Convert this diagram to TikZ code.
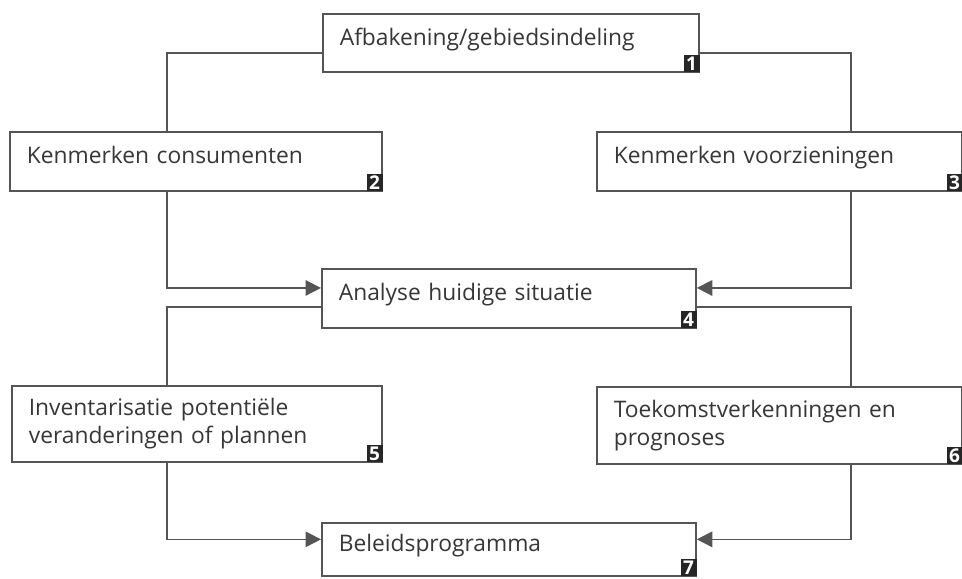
\documentclass[tikz,border=0pt]{standalone}
\usepackage{fontspec}
\setmainfont{Open Sans}
\usetikzlibrary{positioning,arrows.meta}
\definecolor{LineGray}{RGB}{85,85,85}
\definecolor{TextGray}{RGB}{55,55,55}
\tikzset{
  sbox/.style={draw=LineGray,fill=white,line width=1.2pt,anchor=north west,
               inner xsep=0.425cm,align=left,text=TextGray,text depth=9pt,
               font=\fontsize{16.2}{20}\selectfont},
  sbox2/.style={sbox,text depth={}},
  nr/.style={fill=black!85,text=white,anchor=south east,inner sep=0pt,
             minimum width=0.4cm,minimum height=0.43cm,
             font=\fontsize{13.5}{13.5}\selectfont\bfseries},
  lijn/.style={LineGray,line width=1.2pt},
  arr/.style={-{Triangle[length=11pt,width=11pt]},LineGray,line width=1.2pt},
}
\begin{document}
\begin{tikzpicture}[x=0.025cm,y=-0.025cm]
        \useasboundingbox (0,0) rectangle (962,579);
        \node[sbox,text width=8.55cm,minimum height=1.45cm] (a) at (322,13) {Afbakening/gebiedsindeling};
        \node[sbox,text width=8.45cm,minimum height=1.475cm] (b) at (9,131) {Kenmerken consumenten};
        \node[sbox,text width=8.275cm,minimum height=1.475cm] (c) at (596,131) {Kenmerken voorzieningen};
        \node[sbox,text width=8.5cm,minimum height=1.475cm] (d) at (321,268) {Analyse huidige situatie};
        \node[sbox2,text width=8.4cm,minimum height=1.9cm] (e) at (11,385) {Inventarisatie potentiële\\veranderingen of plannen};
        \node[sbox2,text width=8.275cm,minimum height=1.925cm] (f) at (596,386) {Toekomstverkenningen en\\prognoses};
        \node[sbox,text width=8.5cm,minimum height=1.325cm] (g) at (321,522) {Beleidsprogramma};
        \foreach \b/\n in {a/1,b/2,c/3,d/4,e/5,f/6,g/7}
          \node[nr] at (\b.south east) {\n};
        \draw[lijn] ([yshift=-0.25cm]a.west) -| ([xshift=-0.725cm]b.north);
        \draw[lijn] ([yshift=-0.25cm]a.east) -| ([xshift=1.79cm]c.north);
        \draw[arr] ([xshift=-0.725cm]b.south) |- ([yshift=0.26cm]d.west);
        \draw[arr] ([xshift=1.79cm]c.south) |- ([yshift=0.26cm]d.east);
        \draw[lijn] ([yshift=-0.21cm]d.west) -| ([xshift=-0.75cm]e.north);
        \draw[lijn] ([yshift=-0.21cm]d.east) -| ([xshift=1.79cm]f.north);
        \draw[arr] ([xshift=-0.75cm]e.south) |- ([yshift=0.25cm]g.west);
        \draw[arr] ([xshift=1.79cm]f.south) |- ([yshift=0.25cm]g.east);
      \end{tikzpicture}
\end{document}
